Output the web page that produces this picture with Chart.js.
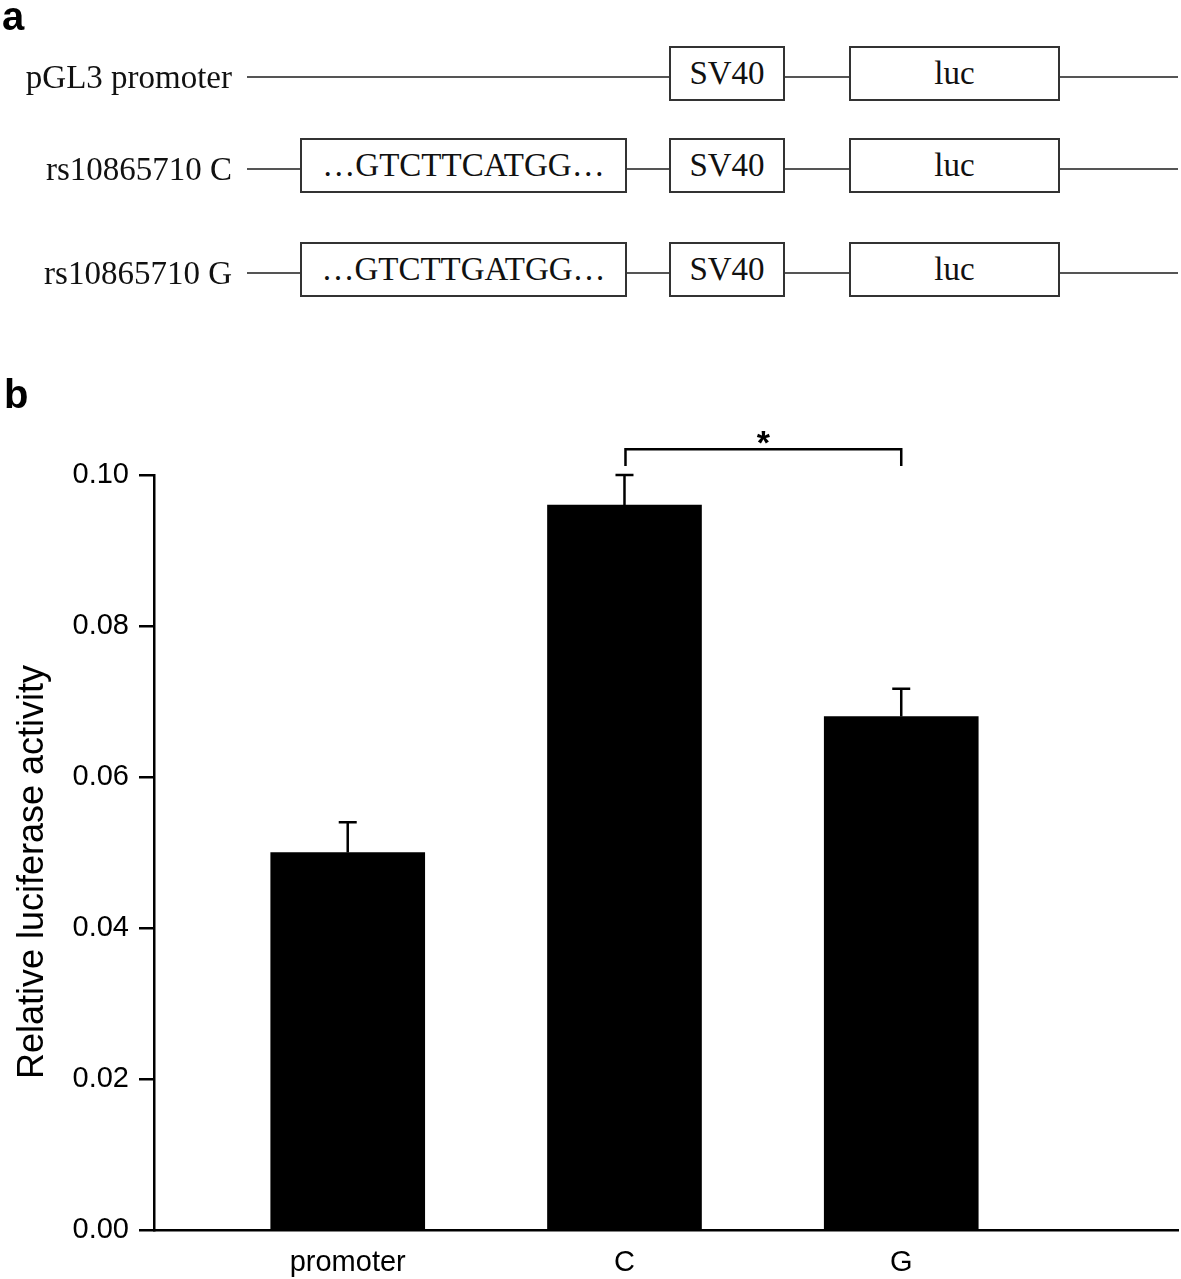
<!DOCTYPE html>
<html>
<head>
<meta charset="utf-8">
<script src="https://cdn.jsdelivr.net/npm/chart.js@4.4.0/dist/chart.umd.min.js"></script>
<style>
  body { margin: 0; background: #fff; }
  #wrap { position: relative; width: 1181px; height: 1279px; overflow: hidden; }
  #luciferaseChart { position: absolute; left: 0; top: 0; }
  .panel { position: absolute; font: bold 40px "Liberation Sans", Arial, sans-serif; color: #000; }
  .lbl { position: absolute; left: 0; width: 232px; height: 40px;
         font: 33px "Liberation Serif", "Times New Roman", serif; line-height: 40px;
         text-align: right; white-space: nowrap; color: #111; }
  .wire { position: absolute; height: 2px; background: #555; }
  .box { position: absolute; box-sizing: border-box; height: 55px; border: 2px solid #333;
         background: #fff; font: 33px "Liberation Serif", "Times New Roman", serif; line-height: 51px;
         text-align: center; color: #111; white-space: nowrap; }
</style>
</head>
<body>
<div id="wrap">
  <canvas id="luciferaseChart" width="1181" height="1279"></canvas>
  <div id="schema"></div>
  <div class="panel" style="left:2px;top:-6px;">a</div>
  <div class="panel" style="left:4px;top:372px;">b</div>
</div>
<script>
// panel a: constructs
const constructNames = ['pGL3 promoter', 'rs10865710 C', 'rs10865710 G'];
const insertSeqs = [null, '\u2026GTCTTCATGG\u2026', '\u2026GTCTTGATGG\u2026'];
const rowCenters = [77, 169, 273];

// panel b: data
const categories = ['promoter', 'C', 'G'];
const activity = [0.050, 0.096, 0.068];
const activityErr = [0.004, 0.004, 0.0037];
const yTicks = [0, 0.02, 0.04, 0.06, 0.08, 0.10];
const sigLevel = 0.1034;
const sigDrop = 0.1012;

const AXIS_FONT = '"Liberation Sans", Arial, sans-serif';

// draw the construct diagram
const schema = document.getElementById('schema');
function addEl(cls, style, text) {
  const d = document.createElement('div');
  d.className = cls;
  Object.assign(d.style, style);
  if (text) d.textContent = text;
  schema.appendChild(d);
}
constructNames.forEach((name, i) => {
  const cy = rowCenters[i];
  addEl('lbl', { top: (cy - 20) + 'px' }, name);
  addEl('wire', { left: '247px', width: '931px', top: (cy - 1) + 'px' });
  const top = (cy - 31) + 'px';
  if (insertSeqs[i]) addEl('box', { left: '300px', width: '327px', top }, insertSeqs[i]);
  addEl('box', { left: '669px', width: '116px', top }, 'SV40');
  addEl('box', { left: '849px', width: '211px', top }, 'luc');
});

const errorBars = {
  id: 'errorBars',
  afterDatasetsDraw(chart) {
    const { ctx, scales: { y } } = chart;
    const bars = chart.getDatasetMeta(0).data;
    ctx.save();
    ctx.strokeStyle = '#000';
    ctx.lineWidth = 2.5;
    bars.forEach((bar, i) => {
      const top = y.getPixelForValue(activity[i] + activityErr[i]);
      ctx.beginPath();
      ctx.moveTo(bar.x, bar.y);
      ctx.lineTo(bar.x, top);
      ctx.moveTo(bar.x - 9, top);
      ctx.lineTo(bar.x + 9, top);
      ctx.stroke();
    });
    // significance bracket C vs G
    const xa = bars[1].x + 1, xb = bars[2].x;
    const yl = y.getPixelForValue(sigLevel), yd = y.getPixelForValue(sigDrop);
    ctx.beginPath();
    ctx.moveTo(xa, yd);
    ctx.lineTo(xa, yl);
    ctx.lineTo(xb, yl);
    ctx.lineTo(xb, yd);
    ctx.stroke();
    ctx.fillStyle = '#000';
    ctx.font = 'bold 34px ' + AXIS_FONT;
    ctx.textAlign = 'center';
    ctx.textBaseline = 'middle';
    ctx.fillText('*', (xa + xb) / 2, yl - 5);
    // y axis title
    ctx.translate(33, 872);
    ctx.rotate(-Math.PI / 2);
    ctx.font = '36px ' + AXIS_FONT;
    ctx.fillText('Relative luciferase activity', 0, 0);
    ctx.restore();
  }
};

new Chart(document.getElementById('luciferaseChart'), {
  type: 'bar',
  data: {
    datasets: [{
      data: categories.map((c, i) => ({ x: i + 1, y: activity[i] })),
      backgroundColor: '#000',
      borderWidth: 0,
      barThickness: 154
    }]
  },
  options: {
    responsive: false,
    animation: false,
    layout: { padding: { top: 475, left: 0, right: 3, bottom: 0 } },
    plugins: { legend: { display: false }, tooltip: { enabled: false } },
    scales: {
      x: {
        type: 'linear',
        offset: false,
        min: 0.3,
        max: 4.0,
        grid: { display: false, drawTicks: false },
        border: { display: true, color: '#000', width: 2.5 },
        afterBuildTicks: (s) => { s.ticks = categories.map((c, i) => ({ value: i + 1 })); },
        afterFit: (s) => { s.height = 49; },
        ticks: {
          autoSkip: false,
          maxRotation: 0,
          padding: 16,
          color: '#000',
          font: { family: AXIS_FONT, size: 29 },
          callback: (v) => categories[v - 1]
        }
      },
      y: {
        min: 0,
        max: 0.1,
        grid: { display: true, drawOnChartArea: false, drawTicks: true, tickLength: 15, color: '#000', lineWidth: 2.5 },
        border: { display: true, color: '#000', width: 2.5 },
        afterBuildTicks: (s) => { s.ticks = yTicks.map(v => ({ value: v })); },
        afterFit: (s) => { s.width = 154; },
        ticks: {
          padding: 10,
          color: '#000',
          font: { family: AXIS_FONT, size: 29 },
          callback: (v) => v.toFixed(2)
        }
      }
    }
  },
  plugins: [errorBars]
});
</script>
</body>
</html>
